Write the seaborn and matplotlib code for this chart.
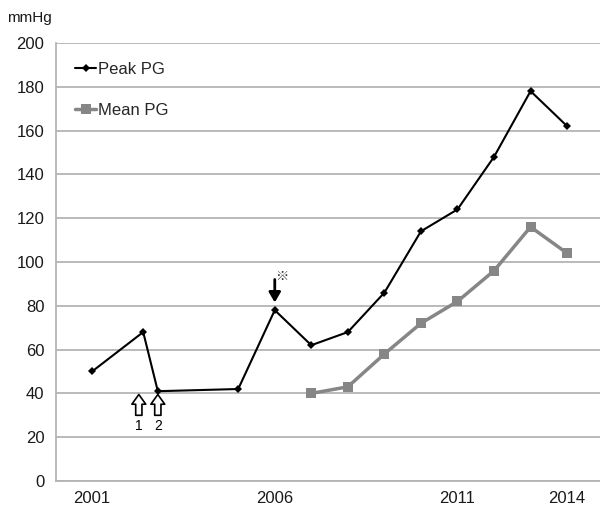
import numpy as np
import pandas as pd
import matplotlib
matplotlib.use('Agg')
import matplotlib.pyplot as plt
import seaborn as sns

# Pressure gradient readings (mmHg)
peak_years = [2001, 2002.4, 2002.8, 2005, 2006, 2007, 2008, 2009, 2010, 2011, 2012, 2013, 2014]
peak_pg = [50, 68, 41, 42, 78, 62, 68, 86, 114, 124, 148, 178, 162]

mean_years = [2007, 2008, 2009, 2010, 2011, 2012, 2013, 2014]
mean_pg = [40, 43, 58, 72, 82, 96, 116, 104]

year_ticks = list(range(2001, 2015))
year_labels = ['2001', '', '', '', '', '2006', '', '', '', '', '2011', '', '', '2014']

# events marked on the chart
open_arrow_x = [2002.28, 2002.8]
open_arrow_labels = ['1', '2']
star_year = 2006

sns.set_style('white')
plt.rcParams['font.family'] = ['Liberation Sans', 'DejaVu Sans']

peak_df = pd.DataFrame({'Year': peak_years, 'PG': peak_pg})
mean_df = pd.DataFrame({'Year': mean_years, 'PG': mean_pg})

fig = plt.figure(figsize=(6.0, 5.05), dpi=100)
ax = fig.add_axes([0.0925, 0.0475, 0.9075, 0.8675])

grid_col = '#b4b4b4'
ax.set_axisbelow(True)
ax.yaxis.grid(True, color=grid_col, linewidth=1.3)

sns.lineplot(data=peak_df, x='Year', y='PG', ax=ax, color='black', linewidth=1.5,
             marker='D', markersize=4.5, markeredgewidth=0, label='Peak PG')
sns.lineplot(data=mean_df, x='Year', y='PG', ax=ax, color='#868686', linewidth=2.5,
             marker='s', markersize=7.5, markeredgewidth=0, label='Mean PG')

ax.set_xlim(2000, 2014.9)
ax.set_ylim(0, 200)
ax.set_yticks(np.arange(0, 201, 20))
ax.set_xticks(year_ticks)
ax.set_xticklabels(year_labels)
ax.set_xlabel('')
ax.set_ylabel('')

for side in ['top', 'right']:
    ax.spines[side].set_visible(False)
for side in ['left', 'bottom']:
    ax.spines[side].set_color(grid_col)
    ax.spines[side].set_linewidth(1.3)
ax.tick_params(axis='both', which='both', direction='out', length=5, width=1.2,
               color=grid_col, labelsize=12, labelcolor='#1a1a1a')
ax.tick_params(axis='y', pad=3)
ax.tick_params(axis='x', pad=2)

leg = ax.legend(loc='upper left', bbox_to_anchor=(0.02, 0.975), frameon=False,
                handlelength=1.3, handletextpad=0.1, labelspacing=1.55,
                fontsize=12, borderpad=0)

# open arrows (events 1 and 2)
for xa, lab in zip(open_arrow_x, open_arrow_labels):
    ax.annotate('', xy=(xa, 39.5), xytext=(xa, 30),
                arrowprops=dict(arrowstyle='simple,head_length=0.7,head_width=1.0,tail_width=0.45',
                                fc='white', ec='black', lw=1.2, shrinkA=0, shrinkB=0))
    ax.text(xa, 25, lab, ha='center', va='center', fontsize=10, color='black')

# solid arrow with reference mark
ax.annotate('', xy=(star_year, 81.5), xytext=(star_year, 92),
            arrowprops=dict(arrowstyle='-|>,head_length=0.6,head_width=0.35',
                            fc='black', ec='black', lw=2.0, shrinkA=0, shrinkB=0))
ax.text(star_year + 0.2, 93.5, '※', fontsize=9.5, ha='center', va='center',
        family=['Noto Sans CJK JP', 'DejaVu Sans'])

fig.text(29 / 600, 1 - 18 / 505, 'mmHg', ha='center', va='center', fontsize=11, color='#1a1a1a')

fig.savefig('out.png', dpi=100)
